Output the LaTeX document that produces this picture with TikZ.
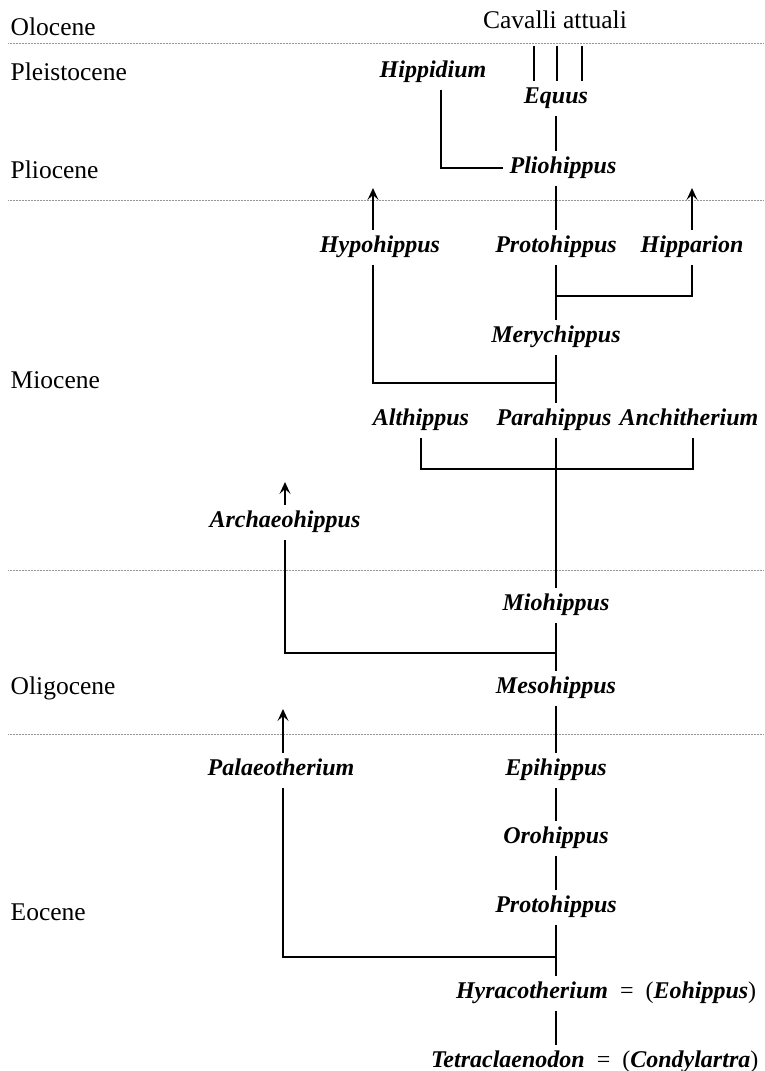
\documentclass[tikz,border=0pt]{standalone}
\usepackage{fontspec}
\setmainfont{Liberation Serif}
\usepackage{tikz}
\usetikzlibrary{arrows.meta}
\definecolor{rule}{RGB}{150,150,150}

\begin{document}
\begin{tikzpicture}[x=1pt, y=-1pt, line width=1.4pt,
    taxon/.style={font=\fontsize{24}{28}\selectfont\bfseries\itshape, inner sep=0pt,
        outer sep=7pt, text height=16pt, text depth=5pt},
    period/.style={font=\fontsize{25.5}{28}\selectfont, inner sep=0pt, anchor=west},
    up/.style={-{Stealth[length=12pt, width=11pt, inset=5pt]}},
    sep/.style={densely dotted, line width=0.5pt, color=rule}]

    \useasboundingbox (0,0) rectangle (764,1071);

    % epochs
    \foreach \y in {43, 200, 570, 734}
        \draw[sep] (8,\y) -- (764,\y);
    \foreach \name/\txt/\y in {olocene/Olocene/27, pleisto/Pleistocene/72,
            plioc/Pliocene/170, mioc/Miocene/380, oligoc/Oligocene/688, eoc/Eocene/912}
        \node[period] (\name) at (10,\y) {\txt};

    % taxa
    \node[taxon, font=\fontsize{25.5}{28}\selectfont, outer sep=12pt] (cav) at (555,23) {Cavalli attuali};
    \node[taxon] (hippidium) at (433,72) {Hippidium};
    \node[taxon] (equus) at (556,98) {Equus};
    \node[taxon] (plioh) at (563,168) {Pliohippus};
    \node[taxon] (hypoh) at (380,247) {Hypohippus};
    \node[taxon] (protoh) at (556,247) {Protohippus};
    \node[taxon] (hipparion) at (692,247) {Hipparion};
    \node[taxon] (merych) at (556,337) {Merychippus};
    \node[taxon] (alth) at (421,420) {Althippus};
    \node[taxon] (parah) at (554,420) {Parahippus};
    \node[taxon] (anchi) at (689,420) {Anchitherium};
    \node[taxon] (archaeo) at (285,522) {Archaeohippus};
    \node[taxon] (mioh) at (556,605) {Miohippus};
    \node[taxon] (mesoh) at (556,688) {Mesohippus};
    \node[taxon] (palaeo) at (281,770) {Palaeotherium};
    \node[taxon] (epih) at (556,770) {Epihippus};
    \node[taxon] (oroh) at (556,838) {Orohippus};
    \node[taxon] (eoproto) at (556,907) {Protohippus};
    \node[taxon, anchor=west] (hyrac) at (449,993)
        {Hyracotherium\enspace{\normalfont=}\enspace{\normalfont(}Eohippus{\normalfont)}};
    \node[taxon, anchor=west] (tetra) at (424,1062)
        {Tetraclaenodon\enspace{\normalfont=}\enspace{\normalfont(}Condylartra{\normalfont)}};

    \coordinate (fork1) at (556,296);
    \coordinate (fork2) at (556,383);
    \coordinate (fork3) at (556,469);
    \coordinate (fork4) at (556,653);
    \coordinate (fork5) at (556,957);
    \coordinate (hypotip) at (373,188);
    \coordinate (hipptip) at (692,188);
    \coordinate (archtip) at (285,482);
    \coordinate (palaeotip) at (283,709);

    % lines of descent
    \foreach \dx in {-21,2,27}
        \draw ([xshift=\dx pt]cav.south) -- ([xshift=\dx pt]cav.south |- equus.north);
    \draw (equus.south) -- (equus.south |- plioh.north);
    \draw ([xshift=8pt]hippidium.south) |- (plioh.west);
    \draw (plioh.south -| protoh) -- (protoh.north);
    \draw[up] ([xshift=-7pt]hypoh.north) -- (hypotip);
    \draw[up] (hipparion.north) -- (hipptip);
    \draw (protoh.south) -- (merych.north);
    \draw (hipparion.south) |- (fork1);
    \draw ([xshift=-7pt]hypoh.south) |- (fork2);
    \draw (merych.south) -- (merych.south |- parah.north);
    \draw (alth.south) |- (fork3) -| ([xshift=4pt]anchi.south);
    \draw (parah.south -| fork3) -- (fork3) -- (mioh.north);
    \draw[up] (archaeo.north) -- (archtip);
    \draw (archaeo.south) |- (fork4);
    \draw (mioh.south) -- (mesoh.north);
    \draw (mesoh.south) -- (epih.north);
    \draw[up] ([xshift=2pt]palaeo.north) -- (palaeotip);
    \draw ([xshift=2pt]palaeo.south) |- (fork5);
    \draw (epih.south) -- (oroh.north);
    \draw (oroh.south) -- (eoproto.north);
    \draw (eoproto.south) -- (eoproto.south |- hyrac.north);
    \draw (hyrac.south -| eoproto) -- (tetra.north -| eoproto);

\end{tikzpicture}
\end{document}
